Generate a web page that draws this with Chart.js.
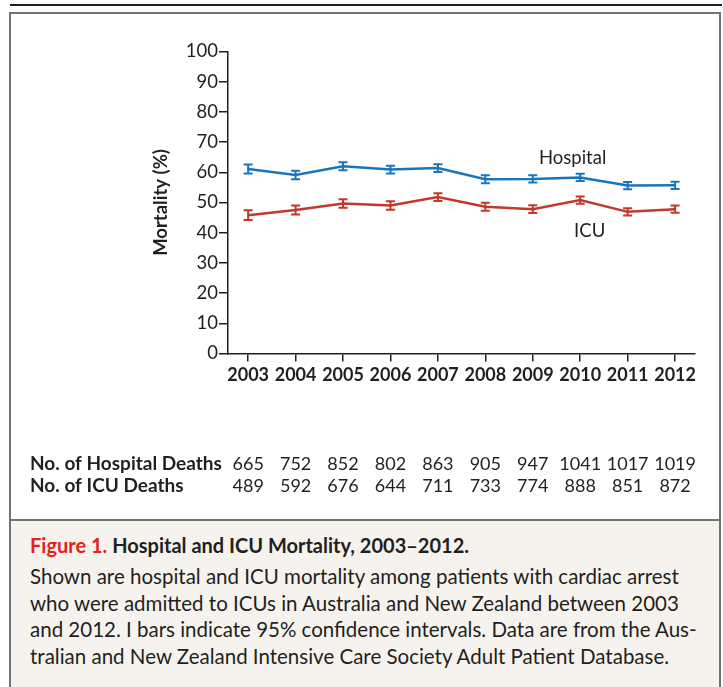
<!DOCTYPE html>
<html>
<head>
<meta charset="utf-8">
<script src="https://cdn.jsdelivr.net/npm/chart.js@4.4.1/dist/chart.umd.min.js"></script>
<style>
  html, body { margin: 0; padding: 0; background: #ffffff; width: 723px; height: 687px; overflow: hidden; font-family: Lato, "Open Sans", sans-serif; }
  #topline { position: absolute; left: 10px; top: 4px; width: 712px; height: 2px; background: #231f20; }
  #panel { position: absolute; left: 9px; top: 12px; width: 708px; height: 506px; border: 2px solid #727272; border-bottom: none; background: #fff; }
  #chartwrap { position: absolute; left: 11px; top: 14px; width: 708px; height: 505px; }
  #caption { position: absolute; left: 9px; top: 519px; width: 708px; height: 180px; border: 2px solid #727272; border-bottom: none; background: #f6f3ee; }
  #caption .title { position: absolute; left: 19px; top: 12px; font-size: 20px; font-weight: bold; color: #231f20; white-space: nowrap; }
  #caption .title .fig { color: #e2231a; }
  #caption .body { position: absolute; left: 19px; top: 42px; width: 690px; font-size: 20.5px; line-height: 26.7px; color: #231f20; }
  #caption .body div { white-space: nowrap; }
</style>
</head>
<body>
<div id="topline"></div>
<div id="panel"></div>
<div id="chartwrap"><canvas id="c" width="708" height="505"></canvas></div>
<div id="caption">
  <div class="title"><span class="fig">Figure 1.</span> Hospital and ICU Mortality, 2003–2012.</div>
  <div class="body">
    <div>Shown are hospital and ICU mortality among patients with cardiac arrest</div>
    <div>who were admitted to ICUs in Australia and New Zealand between 2003</div>
    <div>and 2012. I bars indicate 95% confidence intervals. Data are from the Aus-</div>
    <div>tralian and New Zealand Intensive Care Society Adult Patient Database.</div>
  </div>
</div>
<script>
const years = [2003, 2004, 2005, 2006, 2007, 2008, 2009, 2010, 2011, 2012];
const hospitalMortality = [61.1, 59.1, 62.0, 60.9, 61.4, 57.7, 57.8, 58.3, 55.6, 55.7];
const icuMortality = [45.8, 47.5, 49.7, 49.0, 51.8, 48.6, 47.8, 50.8, 46.9, 47.8];
const hospitalCIHalf = [1.5, 1.4, 1.3, 1.3, 1.3, 1.3, 1.2, 1.2, 1.2, 1.2];
const icuCIHalf = [1.6, 1.5, 1.4, 1.4, 1.3, 1.3, 1.3, 1.2, 1.2, 1.2];
const hospitalDeaths = [665, 752, 852, 802, 863, 905, 947, 1041, 1017, 1019];
const icuDeaths = [489, 592, 676, 644, 711, 733, 774, 888, 851, 872];
const seriesNames = ['Hospital', 'ICU'];
const tableRowLabels = ['No. of Hospital Deaths', 'No. of ICU Deaths'];

const BLUE = '#1a75bb';
const RED = '#c0392b';
const INK = '#231f20';
const FONT = 'Lato, "Open Sans", sans-serif';

const toPoints = (vals) => years.map((y, i) => ({ x: y, y: vals[i] }));

const extras = {
  id: 'extras',
  afterDatasetsDraw(chart) {
    const ctx = chart.ctx;
    const xs = chart.scales.x, ys = chart.scales.y;
    const bars = [[hospitalMortality, hospitalCIHalf, BLUE], [icuMortality, icuCIHalf, RED]];
    ctx.save();
    bars.forEach(([vals, ci, col]) => {
      ctx.strokeStyle = col;
      ctx.lineWidth = 2;
      years.forEach((yr, i) => {
        const px = xs.getPixelForValue(yr);
        const top = ys.getPixelForValue(vals[i] + ci[i]);
        const bot = ys.getPixelForValue(vals[i] - ci[i]);
        ctx.beginPath();
        ctx.moveTo(px, top); ctx.lineTo(px, bot);
        ctx.moveTo(px - 4.5, top); ctx.lineTo(px + 4.5, top);
        ctx.moveTo(px - 4.5, bot); ctx.lineTo(px + 4.5, bot);
        ctx.stroke();
      });
    });
    ctx.fillStyle = INK;
    ctx.font = '18.5px ' + FONT;
    ctx.textAlign = 'center';
    ctx.textBaseline = 'middle';
    ctx.fillText(seriesNames[0], xs.getPixelForValue(2009.84), ys.getPixelForValue(64.7));
    ctx.fillText(seriesNames[1], xs.getPixelForValue(2010.2), ys.getPixelForValue(40.6));
    const rowY = [450, 472];
    [hospitalDeaths, icuDeaths].forEach((row, r) => {
      ctx.textAlign = 'left';
      ctx.font = 'bold 19px ' + FONT;
      ctx.fillText(tableRowLabels[r], 19, rowY[r]);
      ctx.textAlign = 'center';
      ctx.font = '18px ' + FONT;
      row.forEach((v, i) => ctx.fillText(String(v), xs.getPixelForValue(years[i]), rowY[r]));
    });
    ctx.restore();
  }
};

new Chart(document.getElementById('c'), {
  type: 'line',
  data: {
    datasets: [
      { label: seriesNames[0], data: toPoints(hospitalMortality), borderColor: BLUE, borderWidth: 2.5, pointRadius: 0, tension: 0, fill: false },
      { label: seriesNames[1], data: toPoints(icuMortality), borderColor: RED, borderWidth: 2.5, pointRadius: 0, tension: 0, fill: false }
    ]
  },
  options: {
    responsive: false,
    animation: false,
    layout: { padding: { left: 135, top: 37.5, right: 24, bottom: 125.5 } },
    plugins: { legend: { display: false }, tooltip: { enabled: false } },
    scales: {
      x: {
        type: 'linear', min: 2002.575, max: 2012.42,
        afterFit: (s) => { s.height = 40; },
        ticks: { stepSize: 1, includeBounds: false, callback: (v) => String(v), color: INK, font: { family: FONT, size: 18, weight: 'bold' }, padding: 3, maxRotation: 0, autoSkip: false },
        grid: { drawOnChartArea: false, drawTicks: true, tickLength: 8, color: INK, lineWidth: 1.5 },
        border: { display: true, color: INK, width: 1.5 }
      },
      y: {
        min: 0, max: 100,
        afterFit: (s) => { s.width = 82; },
        title: { display: true, text: 'Mortality (%)', color: INK, font: { family: FONT, size: 18.5, weight: 'bold' } },
        ticks: { stepSize: 10, color: INK, font: { family: FONT, size: 18.5 }, padding: 1 },
        grid: { drawOnChartArea: false, drawTicks: true, tickLength: 9, color: INK, lineWidth: 1.5 },
        border: { display: true, color: INK, width: 1.5 }
      }
    }
  },
  plugins: [extras]
});
</script>
</body>
</html>
